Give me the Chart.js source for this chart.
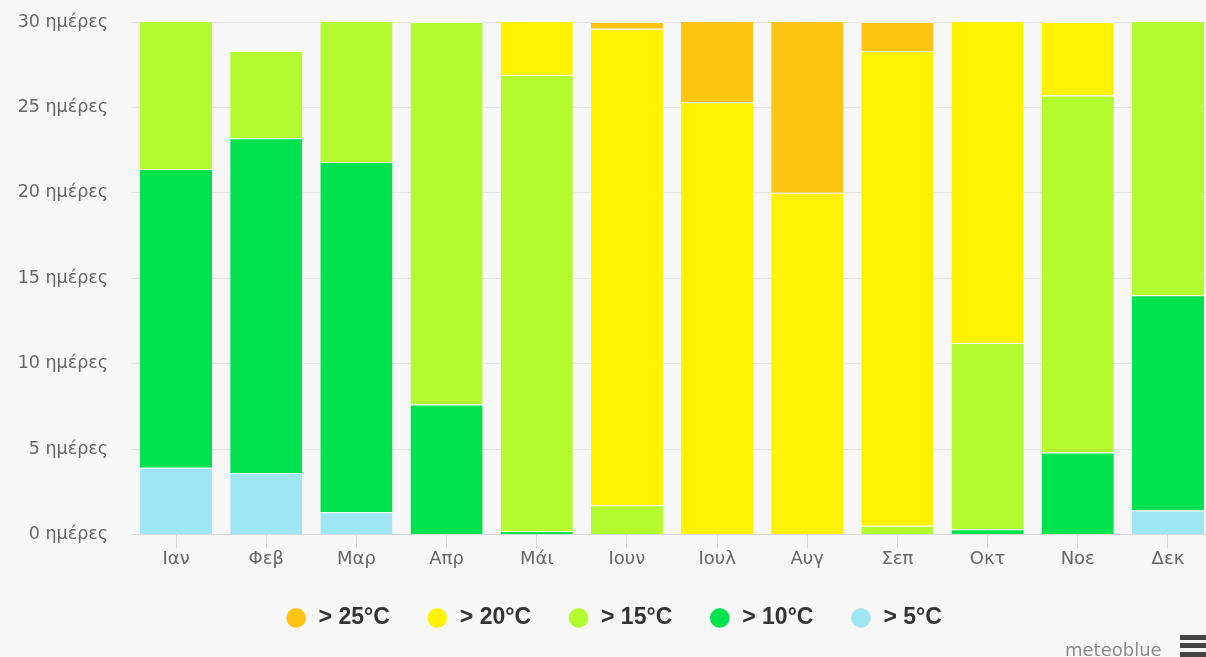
<!DOCTYPE html>
<html>
<head>
<meta charset="utf-8">
<script src="https://cdn.jsdelivr.net/npm/chart.js@4.4.1/dist/chart.umd.min.js"></script>
<style>
  html, body { margin:0; padding:0; background:#f7f7f7; overflow:hidden; width:1206px; height:657px; }
  #wrap { position:relative; width:1220px; height:657px; }
  #brand { position:absolute; left:1065px; top:639px; font:18px "DejaVu Sans", sans-serif; color:#8a8a8a; }
  .bar { position:absolute; left:1180px; width:26px; height:5px; background:#444; }
</style>
</head>
<body>
<div id="wrap">
  <canvas id="c" width="1220" height="657"></canvas>
  <div id="brand">meteoblue</div>
  <div class="bar" style="top:635px"></div>
  <div class="bar" style="top:643px"></div>
  <div class="bar" style="top:652px"></div>
</div>
<script>
const months = ["Ιαν","Φεβ","Μαρ","Απρ","Μάι","Ιουν","Ιουλ","Αυγ","Σεπ","Οκτ","Νοε","Δεκ"];
const seriesNames = ["> 5°C","> 10°C","> 15°C","> 20°C","> 25°C"];
const over5  = [3.9, 3.6, 1.3, 0,    0,    0,    0,    0,    0,    0,    0,    1.4];
const over10 = [17.5,19.6,20.5,7.6,  0.2,  0,    0,    0,    0,    0.3,  4.8,  12.6];
const over15 = [9.6, 5.1, 9.2, 22.4, 26.7, 1.7,  0,    0,    0.5,  10.9, 20.9, 17.0];
const over20 = [0,   0,   0,   0,    4.1,  27.9, 25.3, 20.0, 27.8, 19.8, 4.3,  0];
const over25 = [0,   0,   0,   0,    0,    0.4,  5.7,  11.0, 1.7,  0,    0,    0];
const yTicks = [0,5,10,15,20,25,30];
const colors = ["#9fe6f4","#00e24e","#b3fb2e","#fff200","#fdc411"];

const seriesData = [over5, over10, over15, over20, over25];
const datasets = seriesData.map((d,i)=>({
  label: seriesNames[i],
  data: d,
  backgroundColor: colors[i],
  borderColor: "#f7f7f7",
  borderWidth: {top:1, bottom:0, left:0, right:0},
  borderSkipped: false,
  barPercentage: 0.8,
  categoryPercentage: 1.0,
  pointStyle: "circle"
}));

new Chart(document.getElementById("c"), {
  type: "bar",
  data: { labels: months, datasets },
  options: {
    responsive: false,
    animation: false,
    layout: { padding: { top: 22, right: 7, left: 14, bottom: 17.5 } },
    plugins: {
      tooltip: { enabled: false },
      legend: {
        position: "bottom",
        reverse: true,
        labels: {
          usePointStyle: true,
          pointStyle: "circle",
          boxWidth: 22,
          boxHeight: 14,
          padding: 36.5,
          color: "#333",
          font: { family: "'Liberation Sans', sans-serif", size: 23, weight: "bold" }
        }
      }
    },
    scales: {
      x: {
        stacked: true,
        grid: { display: true, drawOnChartArea: false, drawTicks: true, tickLength: 14, offset: false, color: "#d8d8d8" },
        border: { display: true, color: "#d8d8d8" },
        ticks: { color: "#666", padding: 3.6, font: { family: "'DejaVu Sans', sans-serif", size: 18, lineHeight: 0.8 } }
      },
      y: {
        stacked: true,
        min: 0, max: 30,
        afterBuildTicks: (s) => { s.ticks = yTicks.map(v=>({value:v})); },
        afterFit: (s) => { s.width = 117; s.paddingTop = 0; s.paddingBottom = 0; },
        grid: { color: "#e6e6e6", drawTicks: false },
        border: { display: false },
        ticks: {
          color: "#666", padding: 23,
          font: { family: "'DejaVu Sans', sans-serif", size: 17.5 },
          callback: (v) => v + " ημέρες"
        }
      }
    }
  }
});
</script>
</body>
</html>
